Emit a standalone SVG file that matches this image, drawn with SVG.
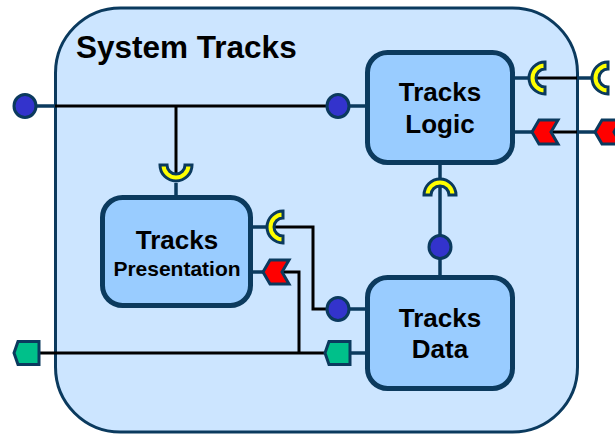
<svg xmlns="http://www.w3.org/2000/svg" xmlns:xlink="http://www.w3.org/1999/xlink" width="615" height="435" viewBox="0 0 615 435">
<style>
.container{fill:#cce5ff;stroke:#0b3a5e;stroke-width:3}
.box{fill:#99ccff;stroke:#0b3a5e;stroke-width:5}
.t{font-family:"Liberation Sans",Arial,sans-serif;font-weight:bold;fill:#000}
.stub{stroke:#0b3a5e;stroke-width:3.5;fill:none}
.wire{stroke:#000;stroke-width:3;fill:none}
.sock{fill:#ffff00;stroke:#0b3a5e;stroke-width:3}
.ball{fill:#3333cc;stroke:#0b3a5e;stroke-width:3}
.chev{fill:#ff0000;stroke:#0b3a5e;stroke-width:3;stroke-linejoin:miter}
.pent{fill:#00c08a;stroke:#0b3a5e;stroke-width:3}
</style>
<defs>
<path id="sockC" class="sock" d="M0,-16 A16,16 0 0 0 0,16 L0,9 A9,9 0 0 1 0,-9 Z"/>
<path id="chevL" class="chev" d="M0,0 L7,-12 L26,-12 L19,0 L26,12 L7,12 Z"/>
<path id="pentL" class="pent" d="M0,0 L4,-11.5 L25,-11.5 L25,11.5 L4,11.5 Z"/>
<ellipse id="ball" class="ball" cx="0" cy="0" rx="11" ry="11.5"/>
</defs>

<g id="system-tracks">
<rect class="container" x="55.5" y="8" width="522" height="424" rx="65" ry="65"/>
<text class="t" x="76" y="58" font-size="31.5">System Tracks</text>
</g>

<g id="connectors">
<line class="stub" x1="37" y1="106" x2="55" y2="106"/>
<line class="stub" x1="349" y1="106" x2="366" y2="106"/>
<line class="stub" x1="515" y1="78" x2="528" y2="78"/>
<line class="stub" x1="577" y1="78" x2="591" y2="78"/>
<line class="stub" x1="515" y1="132" x2="532" y2="132"/>
<line class="stub" x1="577" y1="132" x2="595" y2="132"/>
<line class="stub" x1="440" y1="165" x2="440" y2="178"/>
<line class="stub" x1="440" y1="186" x2="440" y2="236"/>
<line class="stub" x1="440" y1="258" x2="440" y2="276"/>
<line class="stub" x1="176" y1="183" x2="176" y2="196"/>
<line class="stub" x1="252" y1="227" x2="266" y2="227"/>
<line class="stub" x1="252" y1="272" x2="263" y2="272"/>
<line class="stub" x1="349" y1="309" x2="366" y2="309"/>
<line class="stub" x1="350" y1="353" x2="366" y2="353"/>
<line class="wire" x1="55" y1="106" x2="327" y2="106"/>
<line class="wire" x1="176" y1="106" x2="176" y2="173"/>
<line class="wire" x1="537" y1="78" x2="577" y2="78"/>
<line class="wire" x1="551" y1="132" x2="577" y2="132"/>
<polyline class="wire" points="275,227 313,227 313,309 327,309"/>
<polyline class="wire" points="283,272 299,272 299,353"/>
<line class="wire" x1="38" y1="353" x2="325" y2="353"/>
</g>

<g id="ports">
<use xlink:href="#ball" x="25" y="106"/>
<use xlink:href="#ball" x="338" y="106"/>
<use xlink:href="#sockC" transform="translate(545,78)"/>
<use xlink:href="#sockC" transform="translate(608,78)"/>
<use xlink:href="#chevL" transform="translate(532,132)"/>
<use xlink:href="#chevL" transform="translate(595,132)"/>
<use xlink:href="#sockC" transform="translate(440,195) rotate(90)"/>
<use xlink:href="#ball" x="440" y="247"/>
<use xlink:href="#sockC" transform="translate(176,165) rotate(-90)"/>
<use xlink:href="#sockC" transform="translate(283,227)"/>
<use xlink:href="#chevL" transform="translate(263,272)"/>
<use xlink:href="#ball" x="338" y="309"/>
<use xlink:href="#pentL" transform="translate(325,353)"/>
<use xlink:href="#pentL" transform="translate(14,353)"/>
</g>

<g id="tracks-logic">
<rect class="box" x="367.5" y="52.5" width="145" height="110" rx="20" ry="20"/>
<text class="t" x="440" y="101" font-size="26" text-anchor="middle">Tracks</text>
<text class="t" x="440" y="133" font-size="26" text-anchor="middle">Logic</text>
</g>

<g id="tracks-presentation">
<rect class="box" x="102.5" y="197.5" width="148" height="108" rx="20" ry="20"/>
<text class="t" x="177" y="249" font-size="26" text-anchor="middle">Tracks</text>
<text class="t" x="177" y="276" font-size="21" text-anchor="middle">Presentation</text>
</g>

<g id="tracks-data">
<rect class="box" x="367.5" y="277.5" width="145" height="111" rx="20" ry="20"/>
<text class="t" x="440" y="327" font-size="26" text-anchor="middle">Tracks</text>
<text class="t" x="440" y="358" font-size="26" text-anchor="middle">Data</text>
</g>
</svg>
